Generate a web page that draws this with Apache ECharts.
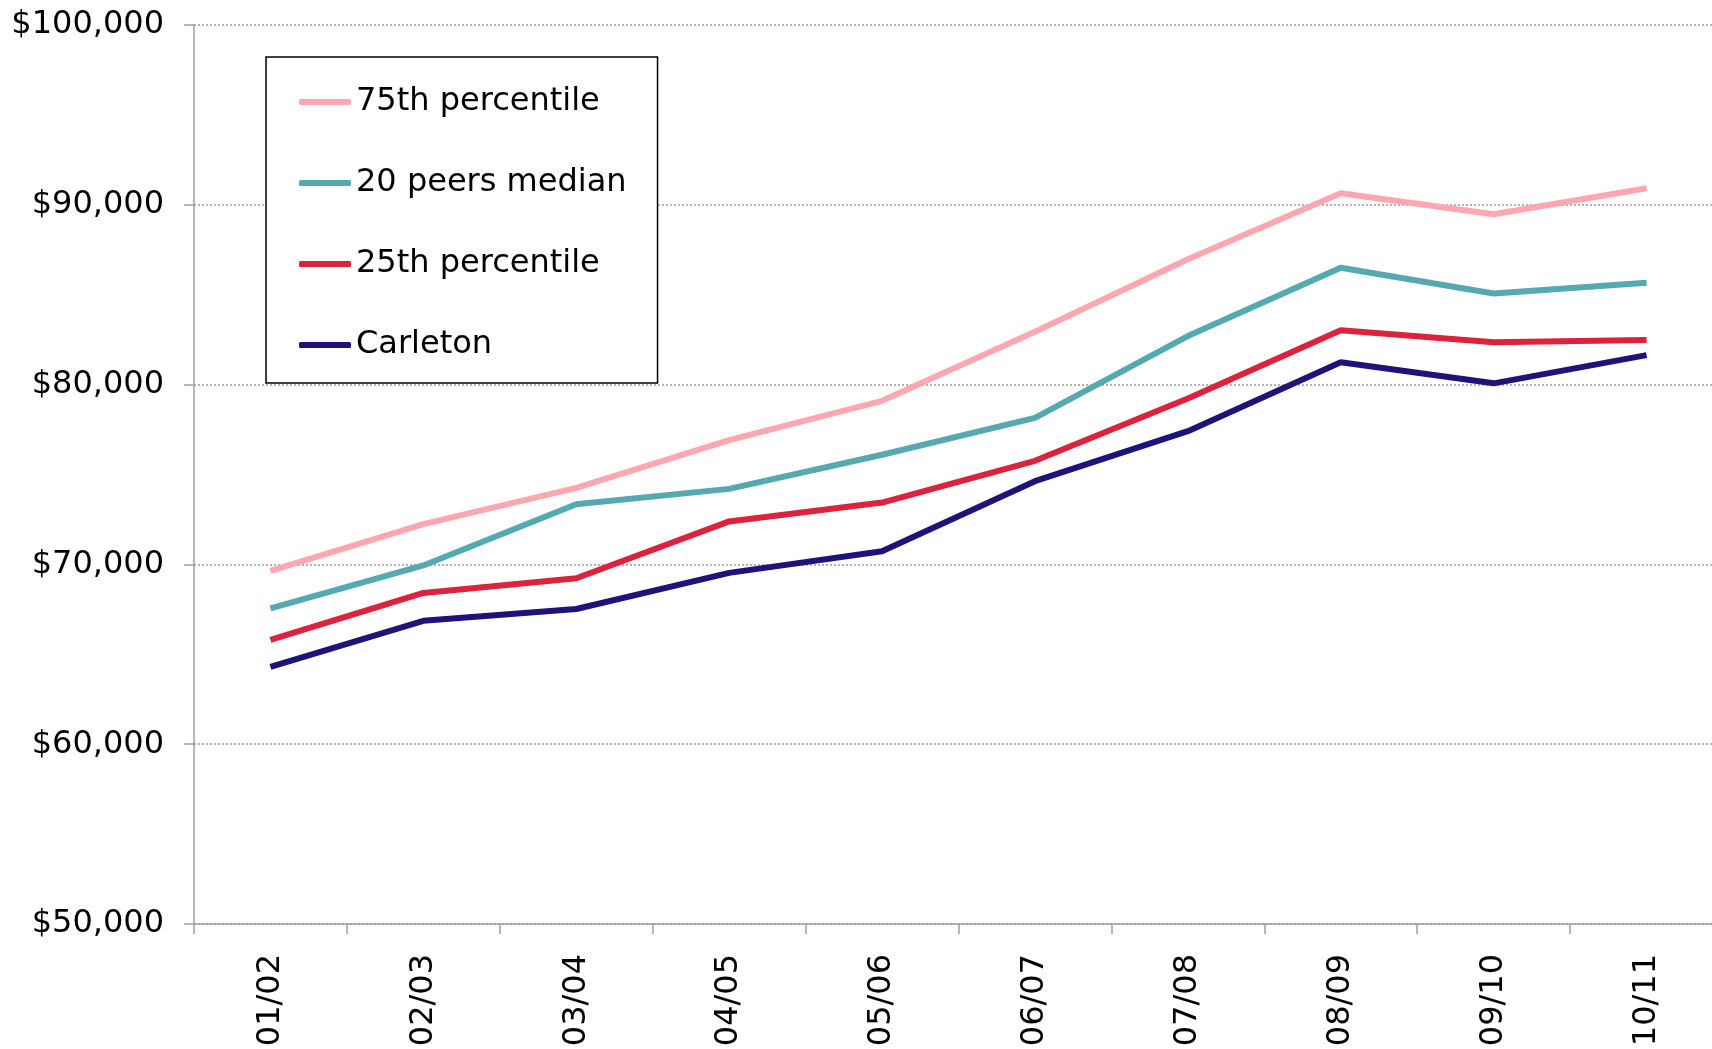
<!DOCTYPE html>
<html>
<head>
<meta charset="utf-8">
<script src="https://cdn.jsdelivr.net/npm/echarts@6/dist/echarts.min.js"></script>
<style>
  html, body { margin: 0; padding: 0; background: #fff; }
  #chart { width: 1712px; height: 1049px; }
</style>
</head>
<body>
<div id="chart"></div>
<script>
// Salary comparison line chart

var years = ["01/02", "02/03", "03/04", "04/05", "05/06", "06/07", "07/08", "08/09", "09/10", "10/11"];

var pct75 = [69640, 72240, 74260, 76910, 79100, 82940, 86970, 90640, 89470, 90920];
var peersMedian = [67560, 69940, 73350, 74200, 76100, 78150, 82700, 86500, 85070, 85670];
var pct25 = [65800, 68410, 69230, 72390, 73440, 75760, 79230, 83020, 82350, 82480];
var carleton = [64300, 66860, 67520, 69530, 70730, 74630, 77410, 81240, 80070, 81640];

var dom = document.getElementById("chart");
var myChart = echarts.init(dom);

var font = "DejaVu Sans";

function lineSeries(name, data, color) {
  return {
    name: name,
    type: "line",
    data: data,
    symbol: "none",
    lineStyle: { color: color, width: 6 },
    itemStyle: { color: color },
  };
}

var option = {
  animation: false,
  backgroundColor: "#fff",
  textStyle: { fontFamily: font },
  grid: {
    left: 194,
    right: -11,
    top: 25,
    bottom: 125,
    outerBoundsMode: "none",
  },
  legend: {
    orient: "vertical",
    left: 266,
    top: 57,
    padding: [29, 31, 22, 33],
    borderColor: "#000",
    borderWidth: 1.5,
    backgroundColor: "#fff",
    selectedMode: false,
    icon: "roundRect",
    itemWidth: 52,
    itemHeight: 6,
    itemGap: 49,
    textStyle: { fontFamily: font, fontSize: 32, color: "#000", lineHeight: 32 },
    data: ["75th percentile", "20 peers median", "25th percentile", "Carleton"],
  },
  xAxis: {
    type: "category",
    data: years,
    boundaryGap: true,
    axisLine: { lineStyle: { color: "#a0a0a0", width: 1.5 } },
    axisTick: { show: true, length: 10, lineStyle: { color: "#a0a0a0", width: 1.5 } },
    axisLabel: {
      rotate: 90,
      margin: 30,
      fontFamily: font,
      fontSize: 32,
      color: "#000",
    },
    splitLine: { show: false },
  },
  yAxis: {
    type: "value",
    min: 50000,
    max: 100000,
    interval: 10000,
    axisLine: { show: true, lineStyle: { color: "#a0a0a0", width: 1.5 } },
    axisTick: { show: true, length: 10, lineStyle: { color: "#a0a0a0", width: 1.5 } },
    axisLabel: {
      margin: 30,
      fontFamily: font,
      fontSize: 32,
      color: "#000",
      formatter: function (v) {
        return "$" + v.toLocaleString("en-US");
      },
    },
    splitLine: {
      show: true,
      lineStyle: { color: "#999", width: 1.5, type: [2, 2] },
    },
  },
  series: [
    lineSeries("75th percentile", pct75, "#ffa7b0"),
    lineSeries("20 peers median", peersMedian, "#55a9b0"),
    lineSeries("25th percentile", pct25, "#dc223c"),
    lineSeries("Carleton", carleton, "#1c1478"),
  ],
};

if (option && typeof option === "object") {
  myChart.setOption(option);
}
</script>
</body>
</html>
